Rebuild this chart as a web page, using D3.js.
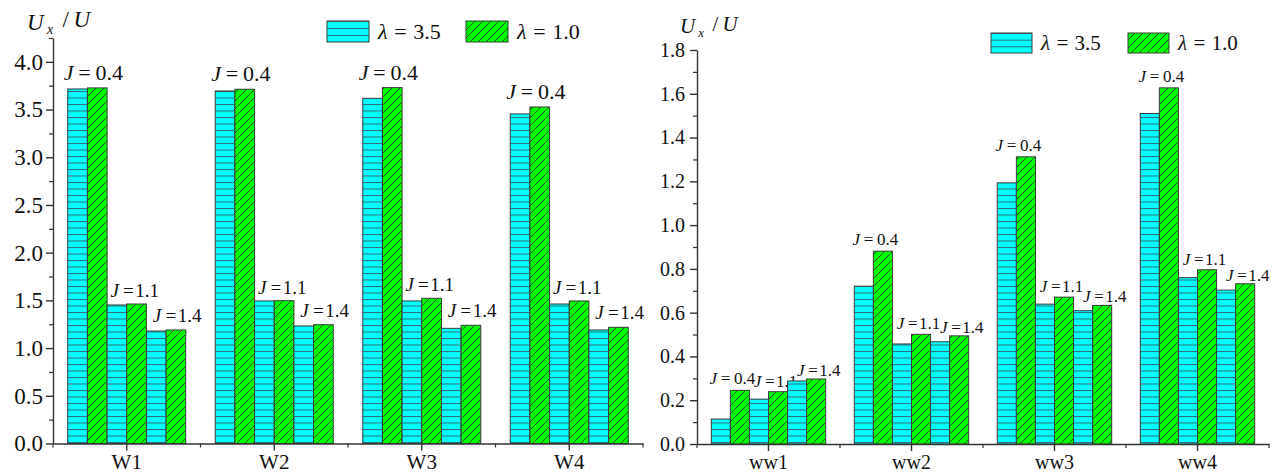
<!DOCTYPE html>
<html>
<head>
<meta charset="utf-8">
<script src="https://cdn.jsdelivr.net/npm/d3@7"></script>
<style>
  html, body { margin: 0; padding: 0; background: #fff; }
  svg { display: block; }
</style>
</head>
<body>
<svg id="chart" width="1278" height="474"></svg>
<script>
// ---------------- data ----------------
const leftCategories = ["W1", "W2", "W3", "W4"];
const rightCategories = ["ww1", "ww2", "ww3", "ww4"];
const jValues = ["0.4", "1.1", "1.4"];
const seriesNames = ["3.5", "1.0"]; // lambda values
// values per category, per J (0.4, 1.1, 1.4)
const leftLambda35 = [[3.716, 1.452, 1.179], [3.695, 1.494, 1.232], [3.618, 1.494, 1.207], [3.454, 1.462, 1.190]];
const leftLambda10 = [[3.727, 1.462, 1.190], [3.713, 1.497, 1.245], [3.730, 1.522, 1.239], [3.527, 1.494, 1.218]];
const rightLambda35 = [[0.114, 0.205, 0.288], [0.721, 0.457, 0.467], [1.193, 0.639, 0.609], [1.510, 0.760, 0.703]];
const rightLambda10 = [[0.245, 0.239, 0.297], [0.881, 0.501, 0.494], [1.312, 0.671, 0.633], [1.627, 0.796, 0.732]];
const leftTicks = [0, 0.5, 1.0, 1.5, 2.0, 2.5, 3.0, 3.5, 4.0];
const leftMinorTicks = [0.25, 0.75, 1.25, 1.75, 2.25, 2.75, 3.25, 3.75, 4.25];
const rightTicks = [0, 0.2, 0.4, 0.6, 0.8, 1.0, 1.2, 1.4, 1.6, 1.8];
const rightMinorTicks = [0.1, 0.3, 0.5, 0.7, 0.9, 1.1, 1.3, 1.5, 1.7];

// ---------------- drawing ----------------
const FONT = "'Liberation Serif', 'Times New Roman', Times, serif";
const svg = d3.select("#chart").style("font-family", FONT);
const defs = svg.append("defs");
const AXIS = "#333";

// cyan with horizontal lines
const pc = defs.append("pattern").attr("id", "hatchCyan")
  .attr("patternUnits", "userSpaceOnUse").attr("width", 10).attr("height", 6.5);
pc.append("rect").attr("width", 10).attr("height", 6.5).attr("fill", "#00FFFF");
pc.append("line").attr("x1", 0).attr("x2", 10).attr("y1", 0.5).attr("y2", 0.5)
  .attr("stroke", "#2f6f78").attr("stroke-width", 1);
// green with diagonal lines
const pg = defs.append("pattern").attr("id", "hatchGreen")
  .attr("patternUnits", "userSpaceOnUse").attr("width", 8).attr("height", 8);
pg.append("rect").attr("width", 8).attr("height", 8).attr("fill", "#00FF00");
pg.append("path").attr("d", "M-2,2 L2,-2 M0,8 L8,0 M6,10 L10,6")
  .attr("stroke", "#1f4a1f").attr("stroke-width", 0.9);
// legend cyan (fewer lines)
const pcl = defs.append("pattern").attr("id", "hatchCyanLeg")
  .attr("patternUnits", "objectBoundingBox").attr("width", 1).attr("height", 1 / 3);
pcl.append("rect").attr("width", 50).attr("height", 7).attr("fill", "#00FFFF");
pcl.append("line").attr("x1", 0).attr("x2", 50).attr("y1", 0.5).attr("y2", 0.5)
  .attr("stroke", "#2f6f78").attr("stroke-width", 1);

const fills = ["url(#hatchCyan)", "url(#hatchGreen)"];

function styleText(sel, size) {
  sel.style("font-family", FONT).style("font-size", size + "px").attr("fill", "#111");
  return sel;
}

function jLabel(g, x, y, j, size) {
  const t = styleText(g.append("text").attr("x", x).attr("y", y)
    .attr("text-anchor", "middle"), size);
  t.append("tspan").attr("font-style", "italic").text("J");
  t.append("tspan").attr("dx", size * 0.22).text("=");
  t.append("tspan").attr("dx", j === "0.4" ? size * 0.22 : size * 0.08).text(j);
}

function drawPanel(o) {
  const g = svg.append("g");
  const y = d3.scaleLinear().domain(o.yDomain).range([o.y0, o.yTop]);
  const x = d3.scaleBand().domain(o.categories).range([o.x0, o.x1])
    .paddingInner(0.2).paddingOuter(0.1);
  const sub = d3.scaleBand().domain(d3.range(6)).range([0, x.bandwidth()]);

  // bars
  o.categories.forEach((c, ci) => {
    jValues.forEach((j, ji) => {
      [o.s35[ci][ji], o.s10[ci][ji]].forEach((v, si) => {
        g.append("rect")
          .attr("x", x(c) + sub(ji * 2 + si))
          .attr("y", y(v))
          .attr("width", sub.bandwidth())
          .attr("height", y(0) - y(v))
          .attr("fill", fills[si])
          .attr("stroke", "#3a3a3a").attr("stroke-width", 1);
      });
      const top = Math.max(o.s35[ci][ji], o.s10[ci][ji]);
      const cx = x(c) + sub(ji * 2) + sub.bandwidth();
      jLabel(g, cx + o.labelDx[ji], y(top) + o.labelDy[ji], j, ji === 0 ? o.bigFont : o.smallFont);
    });
  });

  // y axis
  const ya = g.append("g").attr("transform", `translate(${o.x0},0)`)
    .call(d3.axisLeft(y).tickValues(o.ticks).tickSize(7).tickSizeOuter(0)
      .tickPadding(o.tickPad).tickFormat(d3.format(".1f")));
  ya.attr("font-family", null).attr("font-size", null);
  styleText(ya.selectAll("text"), o.yTickFont);
  ya.selectAll("line,path").attr("stroke", AXIS).attr("stroke-width", 1.4);
  const yam = g.append("g").attr("transform", `translate(${o.x0},0)`)
    .call(d3.axisLeft(y).tickValues(o.minorTicks).tickSize(4).tickFormat(""));
  yam.select(".domain").remove();
  yam.selectAll("line").attr("stroke", AXIS).attr("stroke-width", 1.2);

  // x axis
  const xa = g.append("g").attr("transform", `translate(0,${o.y0})`)
    .call(d3.axisBottom(x).tickSize(7).tickSizeOuter(0).tickPadding(4));
  xa.attr("font-family", null).attr("font-size", null);
  styleText(xa.selectAll("text"), o.xTickFont);
  xa.selectAll("line,path").attr("stroke", AXIS).attr("stroke-width", 1.4);
  const bounds = [o.x0, o.x1].concat(o.categories.slice(1).map(c => x(c) - x.step() * x.paddingInner() / 2));
  g.append("g").selectAll("line").data(bounds).join("line")
    .attr("x1", d => d).attr("x2", d => d)
    .attr("y1", o.y0).attr("y2", o.y0 + 4)
    .attr("stroke", AXIS).attr("stroke-width", 1.2);

  // axis title
  const t = styleText(g.append("text").attr("x", o.titleX).attr("y", o.titleY), o.titleFont)
    .attr("font-style", "italic");
  t.append("tspan").text("U");
  t.append("tspan").attr("dy", "0.3em").style("font-size", (o.titleFont * 0.62) + "px").attr("dx", o.titleFont * 0.15).text("x");
  t.append("tspan").attr("dy", "-0.3em").attr("dx", o.titleFont * 0.4).attr("font-style", "normal").text("/");
  t.append("tspan").attr("dx", o.titleFont * 0.2).text("U");

  // legend
  const lg = g.append("g");
  seriesNames.forEach((s, si) => {
    const lx = o.legX[si];
    lg.append("rect").attr("x", lx).attr("y", o.legY).attr("width", o.legW).attr("height", o.legH)
      .attr("fill", si === 0 ? "url(#hatchCyanLeg)" : "url(#hatchGreen)")
      .attr("stroke", "#3a3a3a").attr("stroke-width", 1);
    const tt = styleText(lg.append("text").attr("x", lx + o.legW + 9).attr("y", o.legY + o.legH - 3), o.legFont);
    tt.append("tspan").attr("font-style", "italic").text("λ");
    tt.append("tspan").attr("dx", o.legFont * 0.3).text("=");
    tt.append("tspan").attr("dx", o.legFont * 0.3).text(s);
  });
}

drawPanel({
  categories: leftCategories, s35: leftLambda35, s10: leftLambda10,
  ticks: leftTicks, minorTicks: leftMinorTicks, yDomain: [0, 4.25],
  x0: 53, x1: 643, y0: 443.5, yTop: 38,
  yTickFont: 23, xTickFont: 21, tickPad: 3, bigFont: 22, smallFont: 19,
  labelDx: [6, 8, 11], labelDy: [-8, -7, -8],
  titleX: 27, titleY: 30, titleFont: 23,
  legX: [327, 466], legY: 21, legW: 42, legH: 21, legFont: 22
});

drawPanel({
  categories: rightCategories, s35: rightLambda35, s10: rightLambda10,
  ticks: rightTicks, minorTicks: rightMinorTicks, yDomain: [0, 1.8],
  x0: 697, x1: 1269, y0: 444, yTop: 50,
  yTickFont: 20, xTickFont: 20, tickPad: 5, bigFont: 17, smallFont: 17,
  labelDx: [2, 7, 12], labelDy: [-6, -5, -3],
  titleX: 680, titleY: 33, titleFont: 21,
  legX: [991, 1128], legY: 33, legW: 41, legH: 20, legFont: 21
});
</script>
</body>
</html>
